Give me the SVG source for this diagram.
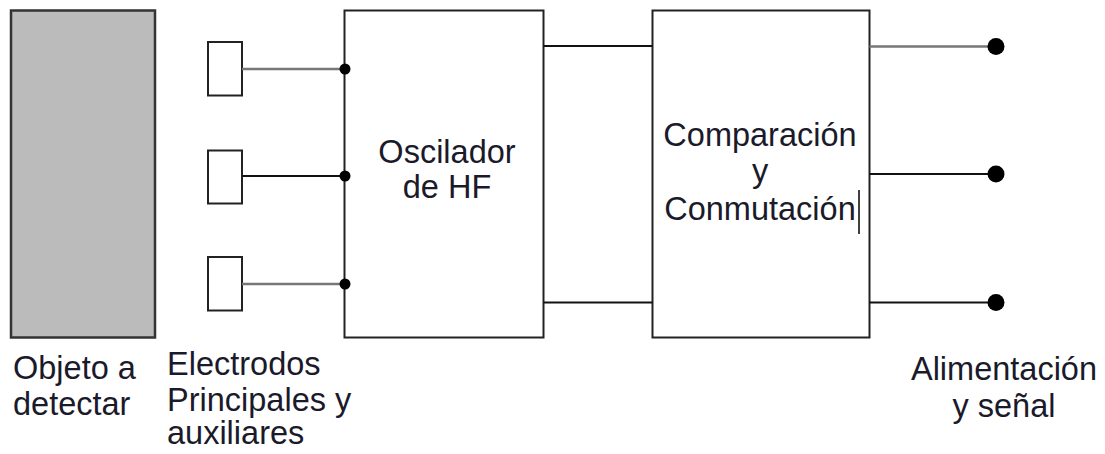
<svg xmlns="http://www.w3.org/2000/svg" width="1105" height="454" viewBox="0 0 1105 454">
<style>
.box{fill:#fff;stroke:#222;stroke-width:2}
.wire{stroke:#111;stroke-width:2;fill:none}
.gwire{stroke:#777;stroke-width:2.5;fill:none}
.dot{fill:#000}
text{font-family:"Liberation Sans",Arial,sans-serif;font-size:32.5px;fill:#1a1a2a}
.c{text-anchor:middle}
</style>
<rect width="1105" height="454" fill="#fff"/>
<g id="objeto">
<rect x="11" y="10.5" width="144" height="327" fill="#bbbbbb" stroke="#333" stroke-width="2.5"/>
<text x="13" y="379">Objeto a</text>
<text x="13" y="415">detectar</text>
</g>
<g id="electrodos">
<rect class="box" x="208" y="42" width="34" height="53.5"/>
<rect class="box" x="208" y="150.5" width="34" height="53"/>
<rect class="box" x="208" y="257" width="34" height="53.5"/>
<text x="167" y="375">Electrodos</text>
<text x="167" y="411">Principales y</text>
<text x="167" y="444">auxiliares</text>
</g>
<g id="oscilador">
<rect class="box" x="344.5" y="10.5" width="199" height="327"/>
<text class="c" x="447" y="163">Oscilador</text>
<text class="c" x="447" y="198">de HF</text>
</g>
<g id="comparacion">
<rect class="box" x="652.5" y="10.5" width="217" height="327"/>
<text class="c" x="760" y="146">Comparación</text>
<text class="c" x="760" y="182">y</text>
<text class="c" x="760" y="220">Conmutación</text>
<line x1="859" y1="190" x2="859" y2="234" stroke="#000" stroke-width="1.5"/>
</g>
<g id="salida">
<text class="c" x="1004" y="380">Alimentación</text>
<text class="c" x="1004" y="417">y señal</text>
</g>
<g id="connectors">
<line class="gwire" x1="242" y1="69" x2="345" y2="69"/>
<line class="wire" x1="242" y1="176" x2="345" y2="176"/>
<line class="gwire" x1="242" y1="284" x2="345" y2="284"/>
<circle class="dot" cx="345" cy="69" r="5.5"/>
<circle class="dot" cx="345" cy="176" r="5.5"/>
<circle class="dot" cx="345" cy="284" r="5.5"/>
<line class="wire" x1="543.5" y1="46" x2="652.5" y2="46"/>
<line class="wire" x1="543.5" y1="302.5" x2="652.5" y2="302.5"/>
<line class="gwire" x1="869.5" y1="46.5" x2="996" y2="46.5"/>
<line class="wire" x1="869.5" y1="174" x2="996" y2="174"/>
<line class="wire" x1="869.5" y1="302.5" x2="996" y2="302.5"/>
<circle class="dot" cx="996" cy="46.5" r="8.5"/>
<circle class="dot" cx="996" cy="174" r="8.5"/>
<circle class="dot" cx="996" cy="302.5" r="8.5"/>
</g>
</svg>
